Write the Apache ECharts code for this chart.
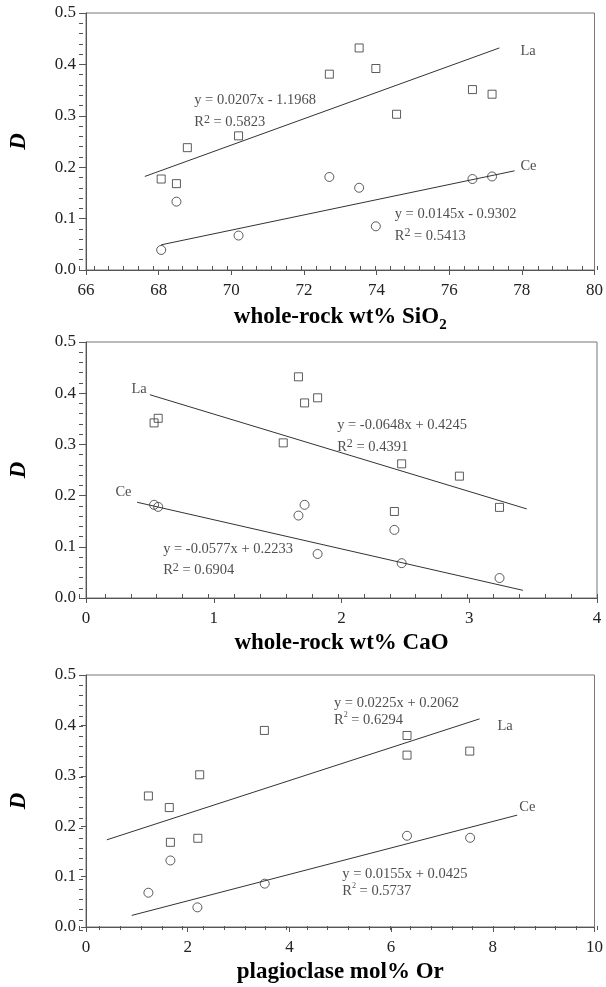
<!DOCTYPE html>
<html lang="en">
<head>
<meta charset="UTF-8">
<title>Partition coefficient D vs SiO2, CaO and Or</title>
<script src="https://cdn.jsdelivr.net/npm/echarts@6.0.0/dist/echarts.min.js"></script>
<style>
    html, body { margin: 0; padding: 0; background: #fff; }
    #chart { width: 606px; height: 987px; }
</style>
</head>
<body>
<div id="chart"></div>
<script>
// panel 1 - whole-rock wt% SiO2
const sio2La = [68.07, 68.49, 68.79, 70.2, 72.7, 73.52, 73.98, 74.55, 76.64, 77.18];
const sio2LaD = [0.177, 0.168, 0.238, 0.261, 0.381, 0.432, 0.392, 0.303, 0.351, 0.342];
const sio2Ce = [68.07, 68.49, 70.2, 72.7, 73.52, 73.98, 76.64, 77.18];
const sio2CeD = [0.039, 0.133, 0.067, 0.181, 0.160, 0.085, 0.177, 0.182];
const sio2LaFit = [67.62, 77.38];
const sio2LaFitD = [0.182, 0.432];
const sio2CeFit = [68.07, 77.8];
const sio2CeFitD = [0.049, 0.193];

// panel 2 - whole-rock wt% CaO
const caoLa = [0.533, 0.565, 1.544, 1.663, 1.711, 1.813, 2.414, 2.471, 2.923, 3.237];
const caoLaD = [0.342, 0.351, 0.303, 0.432, 0.381, 0.391, 0.169, 0.262, 0.238, 0.177];
const caoCe = [0.533, 0.565, 1.663, 1.711, 1.813, 2.414, 2.471, 3.237];
const caoCeD = [0.182, 0.178, 0.161, 0.182, 0.086, 0.133, 0.068, 0.039];
const caoLaFit = [0.5, 3.45];
const caoLaFitD = [0.397, 0.174];
const caoCeFit = [0.40, 3.42];
const caoCeFitD = [0.187, 0.015];

// panel 3 - plagioclase mol% Or
const orLa = [1.227, 1.638, 1.660, 2.199, 2.236, 3.508, 6.313, 6.313, 7.547];
const orLaD = [0.260, 0.237, 0.168, 0.176, 0.302, 0.390, 0.380, 0.341, 0.349];
const orCe = [1.227, 1.660, 2.191, 3.515, 6.313, 7.554];
const orCeD = [0.068, 0.132, 0.039, 0.086, 0.181, 0.177];
const orLaFit = [0.41, 7.74];
const orLaFitD = [0.173, 0.413];
const orCeFit = [0.90, 8.48];
const orCeFitD = [0.023, 0.222];

// annotation texts (left edge, vertical middle, in data units)
const sio2Notes = [
    ['y = 0.0207x - 1.1968', 68.98, 0.331],
    ['R{sup|2} = 0.5823', 68.98, 0.287],
    ['y = 0.0145x - 0.9302', 74.5, 0.109],
    ['R{sup|2} = 0.5413', 74.5, 0.066],
    ['La', 77.96, 0.426],
    ['Ce', 77.96, 0.201]
];
const caoNotes = [
    ['y = -0.0648x + 0.4245', 1.966, 0.337],
    ['R{sup|2} = 0.4391', 1.966, 0.295],
    ['y = -0.0577x + 0.2233', 0.604, 0.096],
    ['R{sup|2} = 0.6904', 0.604, 0.054],
    ['La', 0.356, 0.408],
    ['Ce', 0.23, 0.207]
];
const orNotes = [
    ['y = 0.0225x + 0.2062', 4.877, 0.444],
    ['R{tiny|2} = 0.6294', 4.877, 0.411],
    ['y = 0.0155x + 0.0425', 5.04, 0.104],
    ['R{tiny|2} = 0.5737', 5.04, 0.071],
    ['La', 8.09, 0.398],
    ['Ce', 8.52, 0.238]
];

const FONT = '"Liberation Serif", "DejaVu Serif", serif';
const INK = '#222';
const AXIS = '#555';

const panels = [
    { name: 'whole-rock wt% SiO{sub|2}', min: 66, max: 80, step: 2, minor: 0.4, top: 13, height: 257,
      la: [sio2La, sio2LaD], ce: [sio2Ce, sio2CeD], laFit: [sio2LaFit, sio2LaFitD], ceFit: [sio2CeFit, sio2CeFitD], notes: sio2Notes },
    { name: 'whole-rock wt% CaO', min: 0, max: 4, step: 1, minor: 0.2, top: 342, height: 256,
      la: [caoLa, caoLaD], ce: [caoCe, caoCeD], laFit: [caoLaFit, caoLaFitD], ceFit: [caoCeFit, caoCeFitD], notes: caoNotes },
    { name: 'plagioclase mol% Or', min: 0, max: 10, step: 2, minor: 0.4, top: 675, height: 255,
      la: [orLa, orLaD], ce: [orCe, orCeD], laFit: [orLaFit, orLaFitD], ceFit: [orCeFit, orCeFitD], notes: orNotes }
];

function pairs(xs, ys) {
    return xs.map((x, i) => [x, ys[i]]);
}

const grid = [], xAxis = [], yAxis = [], series = [];
const n = panels.length;

panels.forEach((p, i) => {
    grid.push({ left: 79, right: 9, top: p.top, height: p.height, show: true, borderColor: '#777', borderWidth: 1 });
    xAxis.push({
        type: 'value', gridIndex: i, min: p.min, max: p.max, interval: p.step,
        splitLine: { show: false },
        axisLine: { lineStyle: { color: AXIS } },
        axisTick: { inside: false, length: 5, lineStyle: { color: AXIS } },
        axisLabel: { color: INK, fontFamily: FONT, fontSize: 17, margin: 12 },
        name: p.name, nameLocation: 'middle', nameGap: 31,
        nameTextStyle: {
            color: '#000', fontFamily: FONT, fontSize: 23, fontWeight: 'bold', lineHeight: 28,
            rich: { sub: { fontFamily: FONT, fontSize: 15, fontWeight: 'bold', verticalAlign: 'bottom', lineHeight: 32 } }
        }
    });
    yAxis.push({
        type: 'value', gridIndex: i, min: 0, max: 0.5, interval: 0.1,
        splitLine: { show: false },
        axisLine: { lineStyle: { color: AXIS } },
        axisTick: { inside: false, length: 5, lineStyle: { color: AXIS } },
        axisLabel: { color: INK, fontFamily: FONT, fontSize: 17, margin: 10, formatter: v => v.toFixed(1) },
        name: 'D', nameLocation: 'middle', nameGap: 55, nameRotate: 90,
        nameTextStyle: { color: '#000', fontFamily: FONT, fontSize: 23, fontWeight: 'bold', fontStyle: 'italic' }
    });

    series.push({
        type: 'line', xAxisIndex: i, yAxisIndex: i, data: pairs(p.laFit[0], p.laFit[1]),
        symbol: 'none', lineStyle: { color: '#333', width: 1 }, silent: true
    });
    series.push({
        type: 'line', xAxisIndex: i, yAxisIndex: i, data: pairs(p.ceFit[0], p.ceFit[1]),
        symbol: 'none', lineStyle: { color: '#333', width: 1 }, silent: true
    });
    series.push({
        name: 'La', type: 'scatter', xAxisIndex: i, yAxisIndex: i, data: pairs(p.la[0], p.la[1]),
        symbol: 'rect', symbolSize: 8,
        itemStyle: { color: 'rgba(255,255,255,0)', borderColor: '#333', borderWidth: 1 }
    });
    series.push({
        name: 'Ce', type: 'scatter', xAxisIndex: i, yAxisIndex: i, data: pairs(p.ce[0], p.ce[1]),
        symbol: 'circle', symbolSize: 9,
        itemStyle: { color: 'rgba(255,255,255,0)', borderColor: '#333', borderWidth: 1 }
    });
    series.push({
        type: 'scatter', xAxisIndex: i, yAxisIndex: i, silent: true,
        symbolSize: 1, itemStyle: { color: 'rgba(0,0,0,0)' },
        data: p.notes.map(t => ({ value: [t[1], t[2]], label: { formatter: t[0] } })),
        label: {
            show: true, position: 'inside', align: 'left', verticalAlign: 'middle',
            color: INK, fontFamily: FONT, fontSize: 14.5, lineHeight: 18,
            rich: {
                sup: { fontFamily: FONT, fontSize: 12, color: INK, verticalAlign: 'top', lineHeight: 18 },
                tiny: { fontFamily: FONT, fontSize: 8, color: INK, verticalAlign: 'top', lineHeight: 18 }
            }
        }
    });
});

// overlay grids carrying the inward minor ticks
panels.forEach((p, i) => {
    const g = n + i;
    grid.push({ left: 79, right: 9, top: p.top, height: p.height });
    xAxis.push({
        type: 'value', gridIndex: g, min: p.min, max: p.max, interval: p.minor,
        axisLine: { show: false }, splitLine: { show: false }, axisLabel: { show: false },
        axisTick: { inside: true, length: 4, lineStyle: { color: AXIS } }
    });
    yAxis.push({
        type: 'value', gridIndex: g, min: 0, max: 0.5, interval: 0.02,
        axisLine: { show: false }, splitLine: { show: false }, axisLabel: { show: false },
        axisTick: { inside: true, length: 4, lineStyle: { color: AXIS } }
    });
});

const chart = echarts.init(document.getElementById('chart'));
chart.setOption({
    backgroundColor: '#fff',
    animation: false,
    grid: grid,
    xAxis: xAxis,
    yAxis: yAxis,
    series: series
});
</script>
</body>
</html>
